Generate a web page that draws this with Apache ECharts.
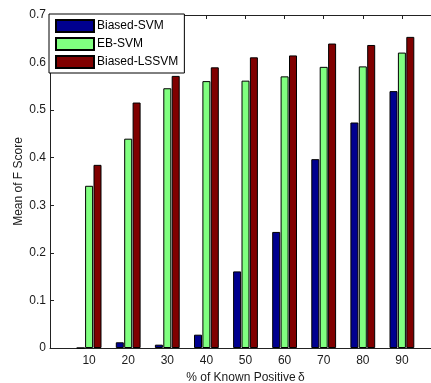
<!DOCTYPE html>
<html>
<head>
<meta charset="utf-8">
<script src="https://cdn.jsdelivr.net/npm/echarts@6/dist/echarts.min.js"></script>
<style>
html,body{margin:0;padding:0;background:#fff;overflow:hidden;}
#chart{width:431px;height:383px;}
</style>
</head>
<body>
<div id="chart"></div>
<script>
const categories = ['10', '20', '30', '40', '50', '60', '70', '80', '90'];
const seriesNames = ['Biased-SVM', 'EB-SVM', 'Biased-LSSVM'];
const biasedSVM = [0, 0.012, 0.007, 0.028, 0.161, 0.244, 0.397, 0.474, 0.540];
const ebSVM = [0.341, 0.440, 0.546, 0.561, 0.562, 0.571, 0.591, 0.592, 0.621];
const biasedLSSVM = [0.385, 0.516, 0.572, 0.590, 0.611, 0.615, 0.640, 0.637, 0.654];
const yMin = 0, yMax = 0.7, yStep = 0.1;

const colors = ['#00008F', '#80FF80', '#800000'];
const font = 'Liberation Sans, Arial, sans-serif';
const txt = '#1a1a1a';
const fs = 12;

function toPairs(arr) { return arr.map((v, i) => [i + 1, v]); }

const chart = echarts.init(document.getElementById('chart'), null, {renderer: 'canvas'});
const commonX = {
  type: 'value', min: 0, max: categories.length + 1, interval: 1,
  splitLine: {show: false},
  axisLine: {show: true, lineStyle: {color: '#222', width: 1}},
  axisTick: {show: true, inside: true, length: 4, lineStyle: {color: '#222'}}
};
chart.setOption({
  animation: false,
  backgroundColor: '#fff',
  textStyle: {fontFamily: font},
  grid: {left: 50, width: 391, top: 15, height: 333, containLabel: false, outerBoundsMode: 'none'},
  legend: {
    data: seriesNames,
    orient: 'vertical',
    left: 49, top: 14,
    padding: [5, 6, 4, 6],
    itemWidth: 38, itemHeight: 12, itemGap: 4,
    backgroundColor: '#fff',
    borderColor: '#000', borderWidth: 1,
    icon: 'rect',
    textStyle: {fontFamily: font, fontSize: fs, color: '#000', padding: [0, 0, 0, -2]}
  },
  xAxis: [
    Object.assign({}, commonX, {
      position: 'bottom',
      name: '% of Known Positive\u2009δ', nameLocation: 'middle', nameGap: 23,
      nameTextStyle: {fontFamily: font, fontSize: fs, color: txt},
      axisLabel: {
        fontFamily: font, fontSize: fs, color: txt, margin: 7,
        showMinLabel: true, showMaxLabel: true,
        formatter: v => categories[v - 1] || ''
      }
    }),
    Object.assign({}, commonX, {position: 'top', axisLabel: {show: false}})
  ],
  yAxis: {
    type: 'value', min: yMin, max: yMax, interval: yStep,
    name: 'Mean of F Score', nameLocation: 'middle', nameGap: 25, nameMoveOverlap: false,
    nameTextStyle: {fontFamily: font, fontSize: fs, color: txt},
    splitLine: {show: false},
    axisLine: {show: true, lineStyle: {color: '#222', width: 1}},
    axisTick: {show: true, inside: true, length: 4, lineStyle: {color: '#222'}},
    axisLabel: {fontFamily: font, fontSize: fs, color: txt, margin: 4,
      formatter: v => (Math.round(v * 10) / 10).toString()}
  },
  series: [biasedSVM, ebSVM, biasedLSSVM].map((arr, k) => ({
    name: seriesNames[k],
    type: 'bar',
    data: toPairs(arr),
    barWidth: 8,
    barGap: '5%',
    itemStyle: {color: colors[k], borderColor: '#000', borderWidth: 1}
  }))
});
</script>
</body>
</html>
